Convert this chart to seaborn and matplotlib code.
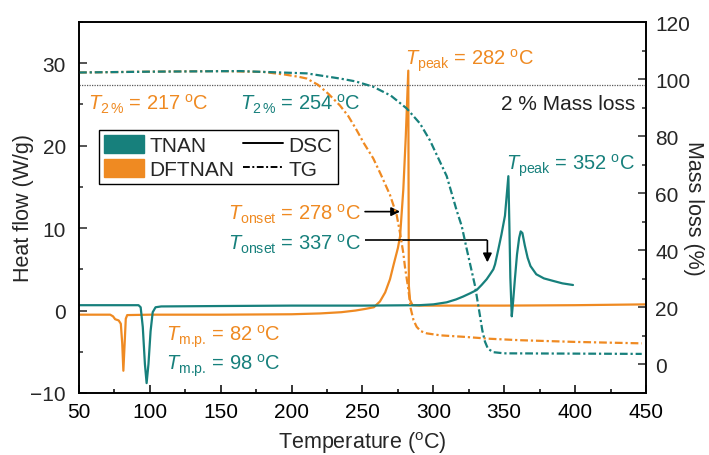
import matplotlib
matplotlib.use("Agg")
import matplotlib.pyplot as plt
import seaborn as sns
import numpy as np
from matplotlib.patches import Patch
from matplotlib.lines import Line2D
from matplotlib.ticker import MultipleLocator

# ---------------- data ----------------
tnan_dsc_T = [50, 92, 93.5, 95, 96.5, 97.7, 99, 100.5, 102, 104, 108, 150, 200, 250, 290, 300,
              309.4, 316, 321, 326, 330.6, 334, 337.6, 340, 342.3, 343.5, 345.8, 348, 350.5,
              352.9, 353.6, 354.3, 355.3, 356.3, 357.5, 359, 360.5, 361.6, 362.8, 364.5, 366.5,
              368.5, 372.6, 378, 384.4, 391, 398.5]
tnan_dsc_hf = [0.65, 0.65, 0.4, -2.0, -6.5, -8.8, -6.5, -2.5, -0.2, 0.4, 0.5, 0.55, 0.6, 0.6, 0.65, 0.75,
               1.0, 1.35, 1.7, 2.1, 2.5, 3.1, 3.8, 4.4, 5.0, 5.6, 7.4, 9.2, 11.5,
               16.3, 10.5, 4.0, -0.7, 1.2, 3.8, 6.8, 8.8, 9.6, 9.4, 7.9, 6.4,
               5.4, 4.4, 3.9, 3.6, 3.3, 3.1]

dftnan_dsc_T = [50, 72, 74, 75.5, 78, 79.5, 80.5, 81.3, 82.2, 83, 84, 100, 150, 200, 220, 235, 245,
                252, 258, 262.3, 266, 269.4, 272, 275, 276.5, 278.8, 280.5, 282.3, 282.5, 282.7,
                283.5, 285.3, 290, 350, 400, 450]
dftnan_dsc_hf = [-0.5, -0.5, -0.7, -1.05, -1.2, -1.6, -4.0, -7.3, -4.0, -1.0, -0.55, -0.5, -0.5, -0.45,
                 -0.35, -0.2, 0.0, 0.2, 0.4, 1.1, 2.2, 3.8, 5.6, 7.6, 9.0, 14.7, 21.0, 29.1, 15.0, 3.0,
                 1.3, 0.65, 0.6, 0.6, 0.65, 0.75]

dftnan_tg_T = [50, 100, 150, 180, 195, 205, 210.6, 218.6, 226, 234, 240, 245.9, 251, 257.6, 263,
               269.4, 274.1, 276.5, 278.8, 280, 282.3, 284, 286, 288.2, 291, 295.3, 305, 321, 340,
               361, 400, 447]
dftnan_tg_m = [102.3, 102.6, 102.8, 102.5, 101.6, 100.8, 100.2, 98.0, 94.8, 90.8, 87.0, 82.1, 77.5,
               72.2, 66.5, 59.4, 52.4, 46.0, 39.0, 34.0, 26.5, 19.6, 15.5, 13.2, 11.7, 10.9, 10.2,
               9.7, 9.0, 8.5, 7.9, 7.4]

tnan_tg_T = [50, 100, 163.6, 210.6, 234, 245, 253, 257.6, 270, 281.2, 290.6, 297.6, 309.4, 316.4,
             320, 323.5, 329.4, 332.9, 334.5, 336.4, 338.5, 342.3, 350, 400, 447]
tnan_tg_m = [102.3, 102.6, 102.8, 102.0, 100.2, 99.2, 98.0, 97.3, 94.2, 89.7, 84.4, 78.5, 66.0, 54.0,
             48.5, 40.5, 27.5, 17.0, 12.0, 8.0, 5.5, 4.3, 3.9, 3.8, 3.7]

mass_loss_level = 98

# ---------------- style ----------------
sns.set_style("ticks")
plt.rcParams["font.family"] = ["Liberation Sans", "DejaVu Sans"]
plt.rcParams["mathtext.fontset"] = "custom"
plt.rcParams["mathtext.rm"] = "Liberation Sans"
plt.rcParams["mathtext.it"] = "Liberation Sans:italic"
plt.rcParams["mathtext.bf"] = "Liberation Sans:bold"

teal = "#17807c"
orange = "#ef8a22"
dashdot = (0, (3.5, 1.3, 1.0, 1.3))

fig = plt.figure(figsize=(7.09, 4.56), dpi=100)
ax = fig.add_axes([79 / 709, 1 - 394 / 456, 567 / 709, 371 / 456])
ax2 = ax.twinx()

# DSC curves
sns.lineplot(x=dftnan_dsc_T, y=dftnan_dsc_hf, ax=ax, color=orange, lw=1.6, sort=False, estimator=None)
sns.lineplot(x=tnan_dsc_T, y=tnan_dsc_hf, ax=ax, color=teal, lw=1.6, sort=False, estimator=None)

# TG curves
sns.lineplot(x=dftnan_tg_T, y=dftnan_tg_m, ax=ax2, color=orange, lw=1.6, sort=False, estimator=None,
             linestyle=dashdot)
sns.lineplot(x=tnan_tg_T, y=tnan_tg_m, ax=ax2, color=teal, lw=1.6, sort=False, estimator=None,
             linestyle=dashdot)
ax2.axhline(mass_loss_level, color="0.35", lw=0.9, ls=(0, (1, 1)), zorder=1)

# axes limits & ticks
ax.set_xlim(50, 450)
ax.set_ylim(-10, 35)
ax2.set_ylim(-10, 120)
ax.xaxis.set_major_locator(MultipleLocator(50))
ax.xaxis.set_minor_locator(MultipleLocator(25))
ax.yaxis.set_major_locator(MultipleLocator(10))
ax.yaxis.set_minor_locator(MultipleLocator(5))
ax.set_yticks([-10, 0, 10, 20, 30])
ax2.yaxis.set_major_locator(MultipleLocator(20))
ax2.yaxis.set_minor_locator(MultipleLocator(10))
ax2.set_yticks([0, 20, 40, 60, 80, 100, 120])

fs_tick = 15
ax.tick_params(axis="x", which="both", direction="in", top=False, bottom=True, labelsize=fs_tick,
               pad=6.5, width=1.1, colors="black")
ax.tick_params(axis="x", which="major", length=5.5)
ax.tick_params(axis="x", which="minor", length=3)
ax.tick_params(axis="y", which="both", direction="in", left=True, right=False, labelsize=fs_tick,
               pad=9.5, width=1.1)
ax.tick_params(axis="y", which="major", length=5.5)
ax.tick_params(axis="y", which="minor", length=3)
ax2.tick_params(axis="y", which="both", direction="in", right=True, left=False, labelsize=fs_tick,
                pad=6.5, width=1.1)
ax2.tick_params(axis="y", which="major", length=5.5)
ax2.tick_params(axis="y", which="minor", length=3)

for a in (ax, ax2):
    for s in a.spines.values():
        s.set_linewidth(1.2)
        s.set_color("black")
        s.set_visible(True)

fs_lab = 15.5
ax.set_xlabel(r"Temperature ($^{\rm o}$C)", fontsize=fs_lab)
ax.set_ylabel("Heat flow (W/g)", fontsize=fs_lab)
ax2.set_ylabel("Mass loss (%)", fontsize=fs_lab, rotation=270, va="bottom")
ax.xaxis.set_label_coords(0.5, -0.097)
ax.yaxis.set_label_coords(-0.08, 0.5)
ax2.yaxis.set_label_coords(1.066, 0.5)

# annotations
fs_ann = 14.5
deg = r"$\;^{\rm o}$C"
ax.text(280.0, 29.8, r"$T_{\rm peak}$ = 282" + deg, color=orange, fontsize=fs_ann, va="baseline")
ax.text(56.6, 24.45, r"$T_{\rm 2\,\%}$ = 217" + deg, color=orange, fontsize=fs_ann, va="baseline")
ax.text(163.6, 24.45, r"$T_{\rm 2\,\%}$ = 254" + deg, color=teal, fontsize=fs_ann, va="baseline")
ax.text(442.2, 24.45, "2 % Mass loss", color="#222222", fontsize=15, va="baseline", ha="right")
ax.text(155.3, 11.0, r"$T_{\rm onset}$ = 278" + deg, color=orange, fontsize=fs_ann, va="baseline")
ax.text(155.3, 7.4, r"$T_{\rm onset}$ = 337" + deg, color=teal, fontsize=fs_ann, va="baseline")
ax.text(351.0, 17.1, r"$T_{\rm peak}$ = 352" + deg, color=teal, fontsize=fs_ann, va="baseline")
ax.text(111.2, -3.6, r"$T_{\text{m.p.}}$ = 82" + deg, color=orange, fontsize=fs_ann, va="baseline")
ax.text(111.2, -7.15, r"$T_{\text{m.p.}}$ = 98" + deg, color=teal, fontsize=fs_ann, va="baseline")

arrow_kw = dict(arrowstyle="-|>", color="black", lw=1.2, mutation_scale=13, shrinkA=0, shrinkB=0)
ax.annotate("", xy=(276.5, 12.0), xytext=(251.8, 12.0), arrowprops=arrow_kw)
ax.plot([251.8, 338.1], [8.5, 8.5], color="black", lw=1.2, solid_capstyle="butt")
ax.annotate("", xy=(338.1, 5.85), xytext=(338.1, 8.5), arrowprops=arrow_kw)

# legend
handles = [Patch(facecolor=teal, edgecolor=teal), Patch(facecolor=orange, edgecolor=orange),
           Line2D([], [], color="black", lw=1.4), Line2D([], [], color="black", lw=1.4, ls=dashdot)]
labels = ["TNAN", "DFTNAN", "DSC", "TG"]
leg = ax2.legend(handles, labels, ncol=2, loc="upper left",
                 bbox_to_anchor=((99 - 79) / 567, (394 - 131) / 371), borderaxespad=0,
                 fontsize=15, frameon=True, fancybox=False, framealpha=1, edgecolor="black",
                 handlelength=1.9, handleheight=0.9, handletextpad=0.25, columnspacing=0.45,
                 labelspacing=0.2, borderpad=0.25)
leg.get_frame().set_linewidth(1.0)

fig.savefig("out.png", dpi=100)
